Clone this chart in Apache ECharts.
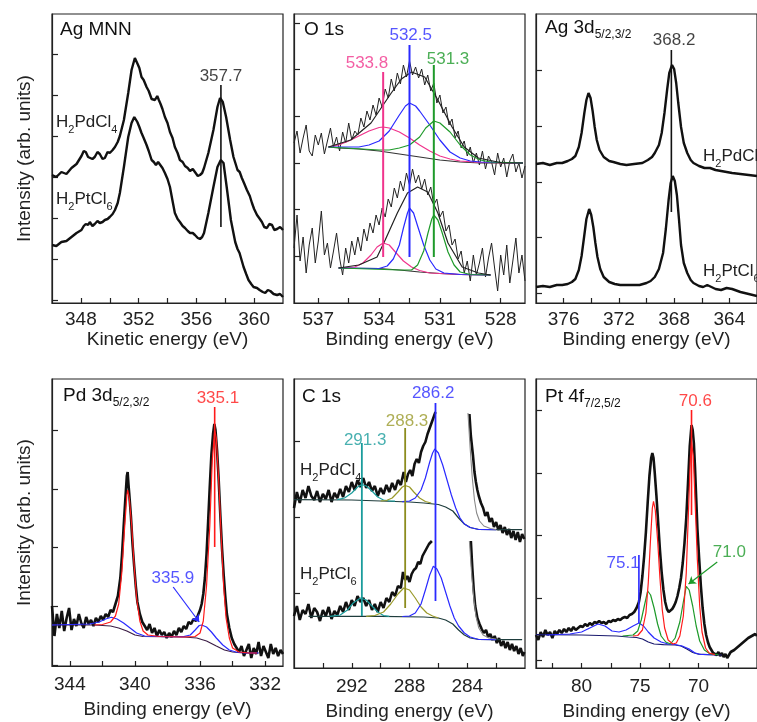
<!DOCTYPE html>
<html>
<head>
<meta charset="utf-8">
<script src="https://cdn.jsdelivr.net/npm/echarts@6/dist/echarts.min.js"></script>
<style>html,body{margin:0;padding:0;background:#fff}#main{width:757px;height:722px}</style>
</head>
<body>
<div id="main"></div>
<script>
var FONT = 'Liberation Sans, Arial, sans-serif';

// ---- Ag MNN (kinetic energy, height above frame bottom) ----
var agMnnPd = [[346.0,128],[346.3,126],[346.65,131],[347.0,129],[347.35,135],[347.7,139],[348.04,147],[348.2,152],[348.34,151],[348.5,146],[348.62,148],[348.8,144],[348.96,146],[349.15,151],[349.31,149],[349.5,144],[349.66,145],[349.85,151],[350.0,150],[350.2,153],[350.36,156],[350.55,161],[350.7,167],[350.98,183],[351.28,210],[351.51,233],[351.74,245],[351.93,239],[352.05,235],[352.2,226],[352.35,223],[352.55,216],[352.7,212],[352.9,204],[353.13,203],[353.29,207],[353.4,203],[353.52,199],[353.65,194],[353.82,186],[354.0,180],[354.17,171],[354.35,165],[354.51,156],[354.7,150],[354.86,143],[355.05,141],[355.21,137],[355.4,135],[355.56,132],[355.75,134],[355.9,131],[356.1,127],[356.25,128],[356.4,130],[356.53,135],[356.83,150],[357.18,173],[357.46,196],[357.64,205],[357.83,201],[358.06,186],[358.34,163],[358.57,146],[358.7,140],[358.85,133],[359.0,131],[359.15,125],[359.3,120],[359.5,113],[359.7,107],[359.85,100],[360.0,94],[360.2,88],[360.35,85],[360.54,81],[360.7,76],[360.89,75],[361.05,79],[361.24,78],[361.4,73],[361.59,74],[361.8,76],[362.0,73]];
var agMnnPt = [[346.0,58],[346.3,57],[346.65,61],[347.0,62],[347.35,66],[347.7,70],[348.04,73],[348.2,77],[348.34,79],[348.5,78],[348.62,81],[348.8,77],[348.96,79],[349.15,82],[349.31,80],[349.5,81],[349.66,83],[349.85,84],[350.0,86],[350.2,89],[350.36,93],[350.55,100],[350.7,110],[350.98,136],[351.28,166],[351.51,180],[351.7,186],[351.91,181],[352.05,176],[352.2,170],[352.35,165],[352.55,158],[352.7,152],[352.9,143],[353.05,141],[353.2,138],[353.35,141],[353.48,140],[353.65,135],[353.82,130],[354.0,124],[354.17,116],[354.35,102],[354.51,90],[354.7,84],[354.86,81],[355.05,77],[355.21,75],[355.4,72],[355.56,70],[355.75,70],[355.9,68],[356.1,65],[356.25,64],[356.4,66],[356.53,70],[356.83,90],[357.18,116],[357.46,136],[357.69,143],[357.88,140],[358.1,116],[358.39,83],[358.69,61],[358.85,54],[358.99,50],[359.15,42],[359.27,36],[359.45,29],[359.61,23],[359.8,19],[359.96,16],[360.2,15],[360.38,13],[360.6,11],[360.77,10],[360.95,13],[361.12,12],[361.35,9],[361.59,8],[361.8,9],[362.0,6]];
var agMnnMarker = [[357.7,76],[357.7,218]];

// ---- O 1s (binding energy grid 538.2 -> 526.8, step 0.15) ----
var o1sStart = 538.2, o1sStep = 0.15;
var o1sPdRaw = [160,172,150,165,178,152,147,168,158,170,149,162,175,156,166,152,171,160,180,163,172,168,185,176,192,183,198,188,205,196,214,205,224,212,230,219,238,226,242,228,236,225,234,218,228,212,220,200,208,190,196,178,184,165,172,155,162,147,156,140,150,138,152,134,147,141,128,150,136,145,126,142,149,131,140,125,137];
var o1sPtRaw = [55,88,42,66,30,58,75,40,62,92,48,60,35,52,70,45,28,55,40,62,48,66,52,74,62,80,70,88,78,95,86,104,96,115,105,122,112,130,118,134,120,128,114,124,108,116,98,104,86,92,72,78,58,64,44,52,30,42,22,48,28,40,55,26,45,60,35,12,48,28,58,20,42,65,30,48,22];
var o1sPdBg = [[536.5,156],[536,155],[535,154],[534,152],[533,149],[532,146],[531,143],[530,141],[529,140],[526.9,140]];
var o1sPdPink = [[536.5,156],[536,158],[535.5,162],[535,167],[534.5,172],[534,175.5],[533.8,176],[533.5,175],[533,171],[532.5,165],[532,158],[531.5,152],[531,147],[530.5,144],[530,142],[529,140.5],[526.9,140]];
var o1sPdBlue = [[536.5,156],[535,156],[534.5,158],[534,162],[533.5,172],[533,188],[532.7,197],[532.5,200],[532.2,197],[532,192],[531.5,178],[531,163],[530.5,151],[530,145],[529.5,142],[529,141],[526.9,140]];
var o1sPdGreen = [[536.5,156],[534,153],[533.5,153],[533,155],[532.5,158],[532,166],[531.7,175],[531.3,182],[531,180],[530.5,171],[530,158],[529.5,148],[529,143],[528.5,141],[526.9,140]];
var o1sPdEnv = [[536.5,156],[535.4,163],[534.4,180],[533.4,210],[532.9,224],[532.4,231],[531.75,226],[531.1,203],[530.4,176],[529.8,156],[529.1,145],[527.9,140],[526.9,140]];
var o1sPtBg = [[536,35],[534,34.5],[533,33],[532,31],[531,29.5],[530,28.5],[528.5,28]];
var o1sPtPink = [[536,35],[535.2,36],[534.8,40],[534.4,48],[534.1,56],[533.8,60],[533.5,58],[533.2,51],[532.8,42],[532.4,36],[532,32.5],[531.5,30],[530,28.5],[528.5,28]];
var o1sPtBlue = [[536,35],[534,34.5],[533.6,37],[533.3,44],[533,58],[532.8,75],[532.6,90],[532.5,95],[532.3,90],[532.1,77],[531.8,58],[531.5,43],[531.2,34],[530.8,30],[530,28.5],[528.5,28]];
var o1sPtGreen = [[536,35],[533,33],[532.4,33],[532.1,38],[531.8,52],[531.6,69],[531.4,84],[531.3,88],[531.1,83],[530.9,71],[530.6,51],[530.3,38],[530,31],[529.5,28.5],[528.5,28]];
var o1sPtEnv = [[536,35],[535,38],[534.1,46],[533.7,63],[533.1,90],[532.6,110],[532.1,116],[531.6,111],[531.1,90],[530.6,60],[529.9,36],[529.1,30],[528.5,28]];
var o1sMarkers = [
  [[533.8,46],[533.8,231]],
  [[532.5,46],[532.5,258]],
  [[531.3,46],[531.3,238]]
];

// ---- Ag 3d ----
var ag3dPd = [[378,139],[377.5,140],[377,138],[376.5,140],[376.1,140],[375.7,142],[375.4,144],[375.15,147],[374.9,156],[374.7,170],[374.5,190],[374.35,203],[374.2,210],[374.05,205],[373.9,192],[373.75,176],[373.6,163],[373.4,153],[373.1,146],[372.7,142],[372.4,141],[371.9,139],[371.45,138],[370.9,139],[370.3,140],[369.9,143],[369.6,146],[369.4,150],[369.1,158],[368.9,170],[368.7,190],[368.5,214],[368.35,230],[368.15,238],[368.0,234],[367.85,220],[367.7,200],[367.5,176],[367.3,160],[367.05,150],[366.8,143],[366.6,140],[366.2,137],[365.8,135],[365.4,135],[365.0,133],[364.6,132],[364.2,131],[363.8,130],[363.2,129],[362.6,128],[362,127]];
var ag3dPt = [[378,16],[377.5,17],[377,16],[376.5,18],[376.1,18],[375.7,19],[375.4,21],[375.15,24],[374.9,33],[374.7,47],[374.5,68],[374.35,84],[374.15,94],[374.0,88],[373.85,76],[373.7,60],[373.55,46],[373.35,34],[373.1,26],[372.7,21],[372.3,19],[371.9,18],[371.2,18],[370.5,18],[370,20],[369.7,22],[369.4,26],[369.1,34],[368.8,50],[368.6,74],[368.4,103],[368.25,120],[368.1,127],[367.95,122],[367.8,108],[367.65,84],[367.5,58],[367.3,40],[367.05,30],[366.8,23],[366.6,20],[366.2,17],[365.9,16],[365.6,18],[365.3,16],[365.0,14],[364.6,13],[364.2,15],[363.8,14],[363.2,11],[362.6,9],[362,7]];
var ag3dMarker = [[368.2,91],[368.2,253]];

// ---- Pd 3d ----
var pdData = [[345.1,60],[344.95,30],[344.8,52],[344.65,38],[344.5,55],[344.35,35],[344.2,48],[344.05,58],[343.9,36],[343.75,47],[343.6,40],[343.45,52],[343.3,43],[343.15,38],[343.0,49],[342.85,42],[342.7,46],[342.55,40],[342.4,48],[342.25,44],[342.1,50],[341.95,46],[341.8,52],[341.65,49],[341.5,56],[341.35,54],[341.2,62],[341.05,70],[340.9,88],[340.8,110],[340.7,138],[340.6,165],[340.5,190],[340.45,194],[340.4,182],[340.35,172],[340.25,150],[340.15,122],[340.05,100],[339.95,80],[339.85,64],[339.7,52],[339.55,44],[339.4,40],[339.25,36],[339.1,42],[338.95,33],[338.8,38],[338.65,30],[338.5,36],[338.35,31],[338.2,34],[338.05,28],[337.9,33],[337.75,29],[337.6,35],[337.45,31],[337.3,38],[337.15,34],[337.0,40],[336.85,37],[336.7,44],[336.55,42],[336.4,47],[336.25,45],[336.1,52],[336.0,56],[335.9,62],[335.8,72],[335.7,88],[335.6,112],[335.5,145],[335.4,180],[335.3,212],[335.2,232],[335.12,242],[335.05,236],[334.95,215],[334.85,185],[334.75,150],[334.65,118],[334.55,92],[334.45,70],[334.35,52],[334.2,38],[334.05,28],[333.9,22],[333.75,18],[333.6,14],[333.45,20],[333.3,10],[333.15,16],[333.0,22],[332.85,8],[332.7,18],[332.55,12],[332.4,24],[332.25,10],[332.1,20],[331.95,14],[331.8,8],[331.65,22],[331.5,12],[331.35,18],[331.2,10],[331.05,16],[330.9,12]];
var pdRed = [[342.5,41],[342,41.5],[341.5,44],[341.2,50],[341,62],[340.8,95],[340.65,135],[340.5,170],[340.45,176],[340.35,168],[340.2,140],[340.05,100],[339.9,68],[339.7,45],[339.5,35],[339.2,31],[338.5,29.5],[337,29],[336.3,29.5],[336,33],[335.8,45],[335.6,80],[335.4,140],[335.25,205],[335.1,236],[335.0,228],[334.85,185],[334.7,130],[334.55,80],[334.4,48],[334.2,28],[334,18],[333.6,14],[333,13],[332.5,13]];
var pdBg = [[345.1,41],[342.5,41],[341.5,40],[341,38],[340.5,35],[340,31],[339.5,29.5],[337,29],[336.2,28],[335.6,25],[335,20],[334.5,16],[334,14],[333.5,13.3],[333,13],[332.4,13]];
var pdBlue = [[345.1,41],[342.8,42],[342.2,44],[341.8,47],[341.45,48.7],[341.1,47],[340.7,43],[340.3,38],[339.9,33],[339.4,30],[338,29.3],[337,29.3],[336.6,31],[336.3,36],[336.05,40.5],[335.9,41],[335.6,39],[335.3,34],[335,28],[334.6,21],[334.2,16],[333.8,14],[333.2,13],[332.4,13]];
var pdMarker = [[335.1,119],[335.1,259]];
var pdArrow = [[337.65,79],[336.05,44]];

// ---- C 1s ----
var c1sPdA = [[296.0,160],[295.8,176],[295.6,165],[295.4,178],[295.2,170],[295.0,182],[294.8,172],[294.6,168],[294.4,177],[294.2,166],[294.0,174],[293.8,169],[293.6,178],[293.4,166],[293.2,175],[293.0,170],[292.8,179],[292.6,171],[292.4,182],[292.2,176],[292.0,186],[291.8,178],[291.6,188],[291.4,181],[291.2,190],[291.0,180],[290.8,186],[290.6,177],[290.4,182],[290.2,172],[290.0,180],[289.8,174],[289.6,183],[289.4,176],[289.2,185],[289.0,178],[288.8,188],[288.6,183],[288.4,196],[288.25,186],[288.1,194],[287.95,198],[287.8,192],[287.65,204],[287.5,209],[287.35,205],[287.2,216],[287.05,222],[286.9,226],[286.75,234],[286.6,240],[286.45,246],[286.3,252],[286.2,256]];
var c1sPdB = [[283.85,254],[283.75,232],[283.6,212],[283.5,196],[283.4,186],[283.3,178],[283.2,172],[283.05,165],[282.9,160],[282.75,152],[282.6,156],[282.45,146],[282.3,150],[282.15,141],[282.0,146],[281.85,138],[281.7,143],[281.55,135],[281.4,141],[281.25,133],[281.1,139],[280.95,130],[280.8,137],[280.65,128],[280.5,136],[280.35,126],[280.2,134],[280.05,129]];
var c1sPtA = [[296.0,52],[295.8,62],[295.6,48],[295.4,58],[295.2,54],[295.0,64],[294.8,50],[294.6,60],[294.4,56],[294.2,47],[294.0,58],[293.8,52],[293.6,61],[293.4,49],[293.2,57],[293.0,53],[292.8,62],[292.6,56],[292.4,66],[292.2,58],[292.0,68],[291.8,62],[291.6,72],[291.4,66],[291.2,70],[291.0,62],[290.8,68],[290.6,58],[290.4,64],[290.2,56],[290.0,66],[289.8,60],[289.6,70],[289.4,66],[289.2,76],[289.0,72],[288.8,82],[288.6,80],[288.45,96],[288.3,88],[288.15,92],[288.0,86],[287.85,94],[287.7,98],[287.55,100],[287.4,106],[287.25,104],[287.1,112],[286.95,116],[286.8,120],[286.65,124],[286.45,127]];
var c1sPtB = [[283.75,127],[283.65,100],[283.55,78],[283.45,62],[283.3,50],[283.15,44],[283.0,39],[282.85,35],[282.7,38],[282.55,31],[282.4,34],[282.25,28],[282.1,32],[281.95,25],[281.8,30],[281.65,22],[281.5,27],[281.35,20],[281.2,26],[281.05,18],[280.9,24],[280.75,17],[280.6,22],[280.45,14],[280.3,20],[280.15,12],[280.05,16]];
var c1sPdBg = [[296,168.3],[292,168],[290,167],[288,166],[287,165],[286,163.5],[285.5,161],[285,157],[284.6,150],[284.2,144],[283.8,140.5],[283.2,138.5],[282,138.3],[280.2,138.3]];
var c1sPdTeal = [[293,168.3],[292.5,170],[292,175],[291.6,181],[291.3,183.5],[291,182],[290.6,177],[290.2,171],[289.8,168],[289.4,167],[289,166.8]];
var c1sPdOlive = [[290,167],[289.6,167.5],[289.2,170],[288.8,176],[288.5,181],[288.3,182.5],[288.0,181],[287.7,176],[287.3,170],[286.9,166.5],[286.5,165]];
var c1sPdBlue = [[288.5,166.3],[288,167],[287.6,170],[287.2,178],[286.9,190],[286.6,206],[286.4,215],[286.25,219],[286.0,215],[285.7,203],[285.4,188],[285.1,173],[284.8,160],[284.5,150],[284.2,144],[283.8,140.5],[283.2,138.5],[282,138.3]];
var c1sPdGray = [[283.95,255],[283.8,220],[283.65,190],[283.5,168],[283.35,155],[283.15,147],[282.85,142],[282.4,139.5],[282,138.5]];
var c1sPtBg = [[295,51.7],[290,51.7],[287,51],[286,50],[285.5,48],[285,44],[284.6,38],[284.2,33],[283.8,30],[283.2,28.5],[282,28.3],[280.2,28.3]];
var c1sPtTeal = [[293.5,51.7],[292.8,53],[292.3,58],[291.9,65],[291.4,70],[291.0,68],[290.6,62],[290.2,56],[289.8,52.5],[289.4,51.7]];
var c1sPtOlive = [[291,51.7],[290.4,52.5],[289.8,56],[289.3,64],[288.8,74],[288.4,80],[288.0,78],[287.6,70],[287.2,61],[286.8,55],[286.4,52],[286,50]];
var c1sPtBlue = [[288.5,51.5],[288,52],[287.6,55],[287.2,64],[286.9,78],[286.6,93],[286.35,101.7],[286.1,99],[285.8,90],[285.5,76],[285.2,62],[284.9,50],[284.6,42],[284.2,35],[283.8,31],[283.2,28.5],[282,28.3]];
var c1sPtGray = [[283.85,127],[283.7,95],[283.55,70],[283.4,52],[283.2,40],[282.9,33],[282.5,30],[282,29]];
var c1sMarkers = [
  [[291.3,52],[291.3,225]],
  [[288.3,60],[288.3,240]],
  [[286.2,67],[286.2,265]]
];

// ---- Pt 4f ----
var ptData = [[83.9,33],[83.7,28],[83.5,36],[83.3,31],[83.1,38],[82.9,33],[82.7,36],[82.5,30],[82.3,37],[82.1,34],[81.9,38],[81.7,35],[81.5,39],[81.3,36],[81.1,40],[80.9,37],[80.7,41],[80.5,38],[80.3,40],[80.1,42],[79.9,41],[79.7,44],[79.5,42],[79.3,45],[79.1,43],[78.9,46],[78.7,45],[78.5,47],[78.3,45],[78.1,46],[77.9,44],[77.7,47],[77.5,46],[77.3,48],[77.1,47],[76.9,49],[76.7,48],[76.5,50],[76.3,51],[76.1,50],[75.9,53],[75.7,54],[75.5,56],[75.3,60],[75.1,66],[74.95,76],[74.8,92],[74.65,112],[74.5,136],[74.35,165],[74.2,192],[74.05,210],[73.95,215],[73.85,210],[73.75,196],[73.6,172],[73.45,145],[73.3,118],[73.15,95],[73.0,78],[72.85,66],[72.7,59],[72.55,56],[72.4,57],[72.25,59],[72.1,62],[71.95,66],[71.8,72],[71.65,80],[71.5,90],[71.35,105],[71.2,125],[71.05,150],[70.9,185],[70.75,222],[70.6,243],[70.5,238],[70.4,225],[70.3,200],[70.2,170],[70.1,140],[69.95,110],[69.8,82],[69.65,60],[69.5,44],[69.35,33],[69.2,26],[69.05,21],[68.9,18],[68.75,15],[68.6,17],[68.45,13],[68.3,16],[68.15,12],[68.0,15],[67.85,11],[67.7,14],[67.55,10],[67.4,13],[67.25,16],[67.1,14],[66.95,18],[66.8,16],[66.65,21],[66.5,19],[66.35,24],[66.2,22],[66.05,27],[65.9,25],[65.75,30],[65.6,28],[65.45,32],[65.3,30],[65.15,34],[65.0,32]];
var ptRed = [[75.6,32],[75.2,32.5],[74.8,38],[74.5,55],[74.3,85],[74.1,130],[73.95,160],[73.85,166.7],[73.7,158],[73.5,128],[73.3,90],[73.1,58],[72.9,40],[72.6,28],[72.2,24],[71.9,25],[71.6,32],[71.3,52],[71.05,95],[70.85,160],[70.7,210],[70.6,226],[70.45,212],[70.3,168],[70.1,108],[69.9,62],[69.7,36],[69.4,20],[69.1,15],[68.6,13.3]];
var ptGreen = [[76.5,32],[75.6,33],[75.2,37],[74.9,48],[74.6,64],[74.35,77],[74.1,73],[73.8,60],[73.5,44],[73.2,32],[72.8,26],[72.4,24],[72.0,30],[71.6,46],[71.3,66],[71.05,81.7],[70.8,78],[70.5,62],[70.2,42],[69.9,27],[69.5,18],[69,14],[68.3,13.3]];
var ptBlue = [[83,33],[81,34],[80,36],[79.3,40],[78.6,44],[78,42],[77.4,37],[76.8,36],[76.2,38],[75.6,42],[75.1,45],[74.7,42],[74.3,36],[73.8,30],[73.2,26],[72.6,24],[72,23.5],[71.4,22],[70.8,19],[70.3,15],[69.8,13.5],[68.5,13.3]];
var ptBg = [[83.9,33.3],[80,33],[77,32],[76,31],[75.3,30.5],[74.8,29],[74.3,26],[73.8,24],[73,23.3],[72,23],[71.5,22],[71,19],[70.5,15.5],[70,13.8],[69.2,13.3],[68,13]];
var ptMarkers = [
  [[70.6,153],[70.6,258]],
  [[75.1,45],[75.1,113]]
];
var ptArrow = [[68.4,106],[70.85,84]];

// ---- axis ticks / labels per panel ----
var xTicks = [
  [348,350,352,354,356,358,360],
  [528,529.5,531,532.5,534,535.5,537],
  [364,366,368,370,372,374,376],
  [332,334,336,338,340,342,344],
  [282,284,286,288,290,292,294],
  [67.5,70,72.5,75,77.5,80,82.5]
];
var xLabels = [
  [348,352,356,360],
  [528,531,534,537],
  [364,368,372,376],
  [332,336,340,344],
  [284,288,292],
  [70,75,80]
];
var yTicks = [
  [3,44,85,126,167,208,249],
  [46.7,93.4,140,186.7,233.4,280],
  [9.7,65.4,121.1,176.8,232.5],
  [1,60,118.5,177,236],
  [75,151,227],
  [7.6,70,132.3,195,257.6]
];
var panelTitles = ['{m|Ag MNN}', '{m|O 1s}', '{m|Ag 3d}{s|5/2,3/2}', '{m|Pd 3d}{s|5/2,3/2}', '{m|C 1s}', '{m|Pt 4f}{s|7/2,5/2}'];
// [panel, energy, height, text, colour]
var peakLabels = [
  [0, 357.7, 227, '357.7', '#111'],
  [1, 534.6, 240, '533.8', '#f0348c'],
  [1, 532.44, 268, '532.5', '#2a2aff'],
  [1, 530.6, 244, '531.3', '#1e9a2a'],
  [2, 368.0, 263, '368.2', '#111'],
  [3, 334.9, 268, '335.1', '#ff1a1a'],
  [3, 337.67, 88, '335.9', '#2a2aff'],
  [4, 291.07, 228, '291.3', '#1a9c9c'],
  [4, 288.17, 247, '288.3', '#9a9a2a'],
  [4, 286.36, 275, '286.2', '#2a2aff'],
  [5, 70.27, 267, '70.6', '#ff1a1a'],
  [5, 76.45, 105, '75.1', '#2a2aff'],
  [5, 67.37, 116, '71.0', '#1e9a2a']
];

var grids = [
  {left: 52, top: 14, width: 231, height: 289},
  {left: 294, top: 14, width: 231, height: 289},
  {left: 536, top: 14, width: 232, height: 289},
  {left: 52, top: 379, width: 231, height: 287},
  {left: 294, top: 379, width: 231, height: 289},
  {left: 536, top: 379, width: 232, height: 289}
];
var xRange = [[346,362],[526.8,538.2],[362,378],[330.9,345.1],[280,296],[65,83.9]];
var xNames = ['Kinetic energy (eV)','Binding energy (eV)','Binding energy (eV)','Binding energy (eV)','Binding energy (eV)','Binding energy (eV)'];

function toPairs(start, step, vals) {
  var out = [];
  for (var i = 0; i < vals.length; i++) out.push([+(start - i * step).toFixed(2), vals[i]]);
  return out;
}

function ln(i, data, color, w, z) {
  return {
    type: 'line', xAxisIndex: i, yAxisIndex: i, data: data,
    showSymbol: false, symbol: 'none', silent: true, z: z || 2,
    lineStyle: {color: color, width: w}
  };
}

var series = [];
// Ag MNN
series.push(ln(0, agMnnPd, '#111', 2.4, 3), ln(0, agMnnPt, '#111', 2.4, 3), ln(0, agMnnMarker, '#111', 1.6, 4));
// O 1s
series.push(
  ln(1, toPairs(o1sStart, o1sStep, o1sPdRaw), '#222', 1, 2),
  ln(1, toPairs(o1sStart, o1sStep, o1sPtRaw), '#222', 1, 2),
  ln(1, o1sPdBg, '#333', 1.1, 3), ln(1, o1sPdPink, '#f0348c', 1.2, 3), ln(1, o1sPdBlue, '#2a2aff', 1.2, 3),
  ln(1, o1sPdGreen, '#1e9a2a', 1.2, 3), ln(1, o1sPdEnv, '#222', 1.2, 3),
  ln(1, o1sPtBg, '#333', 1.1, 3), ln(1, o1sPtPink, '#f0348c', 1.2, 3), ln(1, o1sPtBlue, '#2a2aff', 1.2, 3),
  ln(1, o1sPtGreen, '#1e9a2a', 1.2, 3), ln(1, o1sPtEnv, '#222', 1.2, 3),
  ln(1, o1sMarkers[0], '#f0348c', 2, 4), ln(1, o1sMarkers[1], '#2a2aff', 2, 4), ln(1, o1sMarkers[2], '#1e9a2a', 2, 4)
);
// Ag 3d
series.push(ln(2, ag3dPd, '#111', 2.4, 3), ln(2, ag3dPt, '#111', 2.4, 3), ln(2, ag3dMarker, '#111', 1.6, 4));
// Pd 3d
series.push(
  ln(3, pdData, '#111', 2.6, 2), ln(3, pdBg, '#3c1e46', 1.2, 3), ln(3, pdBlue, '#2a2aff', 1.2, 3),
  ln(3, pdRed, '#ff1a1a', 1.2, 3), ln(3, pdMarker, '#ff1a1a', 1.6, 4)
);
series.push({
  type: 'lines', coordinateSystem: 'cartesian2d', xAxisIndex: 3, yAxisIndex: 3, silent: true, z: 5,
  symbol: ['none', 'arrow'], symbolSize: 7,
  lineStyle: {color: '#2a2aff', width: 1.2, opacity: 1},
  data: [{coords: pdArrow}]
});
// C 1s
series.push(
  ln(4, c1sPdA, '#111', 2.6, 2), ln(4, c1sPdB, '#111', 2.6, 2),
  ln(4, c1sPtA, '#111', 2.6, 2), ln(4, c1sPtB, '#111', 2.6, 2),
  ln(4, c1sPdBg, '#1e3c3c', 1.2, 3), ln(4, c1sPdTeal, '#1a9c9c', 1.2, 3), ln(4, c1sPdOlive, '#9a9a2a', 1.2, 3),
  ln(4, c1sPdBlue, '#2a2aff', 1.2, 3), ln(4, c1sPdGray, '#888', 1.1, 3),
  ln(4, c1sPtBg, '#1e3c3c', 1.2, 3), ln(4, c1sPtTeal, '#1a9c9c', 1.2, 3), ln(4, c1sPtOlive, '#9a9a2a', 1.2, 3),
  ln(4, c1sPtBlue, '#2a2aff', 1.2, 3), ln(4, c1sPtGray, '#888', 1.1, 3),
  ln(4, c1sMarkers[0], '#1a9c9c', 1.8, 4), ln(4, c1sMarkers[1], '#8c8c1e', 1.8, 4), ln(4, c1sMarkers[2], '#2a2aff', 1.8, 4)
);
// Pt 4f
series.push(
  ln(5, ptData, '#111', 2.6, 2), ln(5, ptBg, '#1a1a6e', 1.2, 3), ln(5, ptBlue, '#2a2aff', 1.2, 3),
  ln(5, ptGreen, '#1e9a2a', 1.2, 3), ln(5, ptRed, '#ff1a1a', 1.2, 3),
  ln(5, ptMarkers[0], '#ff1a1a', 1.6, 4), ln(5, ptMarkers[1], '#2a2aff', 1.6, 4)
);
series.push({
  type: 'lines', coordinateSystem: 'cartesian2d', xAxisIndex: 5, yAxisIndex: 5, silent: true, z: 5,
  symbol: ['none', 'arrow'], symbolSize: 7,
  lineStyle: {color: '#1e9a2a', width: 1.2, opacity: 1},
  data: [{coords: ptArrow}]
});
// peak value labels
peakLabels.forEach(function (p) {
  series.push({
    type: 'scatter', xAxisIndex: p[0], yAxisIndex: p[0], silent: true, z: 6,
    symbolSize: 0, itemStyle: {color: 'transparent'},
    data: [[p[1], p[2]]],
    label: {show: true, position: 'inside', formatter: p[3], color: p[4], fontSize: 17, fontFamily: FONT}
  });
});

var xAxis = [], yAxis = [];
for (var i = 0; i < 6; i++) {
  var bottomRow = i >= 3;
  xAxis.push({
    type: 'value', gridIndex: i, min: xRange[i][0], max: xRange[i][1], inverse: i !== 0,
    axisLine: {show: true, onZero: false, lineStyle: {color: '#222', width: 1.2}},
    axisTick: {show: true, inside: true, length: 5, customValues: xTicks[i], lineStyle: {color: '#222', width: 1.2}},
    axisLabel: {show: true, customValues: xLabels[i], margin: bottomRow ? 9 : 7, fontSize: 19, color: '#222', fontFamily: FONT},
    splitLine: {show: false},
    name: xNames[i], nameLocation: 'middle', nameGap: bottomRow ? 34 : 22,
    nameTextStyle: {fontSize: 19, color: '#222', fontFamily: FONT}
  });
  yAxis.push({
    type: 'value', gridIndex: i, min: 0, max: grids[i].height,
    axisLine: {show: true, lineStyle: {color: '#222', width: 1.2}},
    axisTick: {show: true, inside: true, length: 6, customValues: yTicks[i], lineStyle: {color: '#222', width: 1.2}},
    axisLabel: {show: false},
    splitLine: {show: false},
    name: (i === 0 || i === 3) ? 'Intensity (arb. units)' : '',
    nameLocation: 'middle', nameGap: 18,
    nameTextStyle: {fontSize: 19, color: '#222', fontFamily: FONT}
  });
}

var titleRich = {
  m: {fontSize: 19, fontFamily: FONT, fill: '#111', verticalAlign: 'top'},
  s: {fontSize: 12, fontFamily: FONT, fill: '#111', verticalAlign: 'top', padding: [11, 0, 0, 0]}
};
var sampleRich = {
  m: {fontSize: 17, fontFamily: FONT, fill: '#222', verticalAlign: 'top'},
  s: {fontSize: 11, fontFamily: FONT, fill: '#222', verticalAlign: 'top', padding: [10, 0, 0, 0]}
};
var titlePos = [[60, 20], [304, 20], [545, 18], [63, 386], [302, 387], [545, 387]];
var samplePos = [
  ['{m|H}{s|2}{m|PdCl}{s|4}', 56, 114], ['{m|H}{s|2}{m|PtCl}{s|6}', 56, 191],
  ['{m|H}{s|2}{m|PdCl}{s|4}', 703, 148], ['{m|H}{s|2}{m|PtCl}{s|6}', 703, 263],
  ['{m|H}{s|2}{m|PdCl}{s|4}', 300, 462], ['{m|H}{s|2}{m|PtCl}{s|6}', 300, 566]
];
var graphic = [];
panelTitles.forEach(function (t, k) {
  graphic.push({type: 'text', x: titlePos[k][0], y: titlePos[k][1], z: 10, style: {text: t, rich: titleRich}});
});
samplePos.forEach(function (s) {
  graphic.push({type: 'text', x: s[1], y: s[2], z: 10, style: {text: s[0], rich: sampleRich}});
});

var chart = echarts.init(document.getElementById('main'));
chart.setOption({
  animation: false,
  backgroundColor: '#fff',
  grid: grids.map(function (g) {
    return {left: g.left, top: g.top, width: g.width, height: g.height, show: true, borderColor: '#222', borderWidth: 1.2, containLabel: false};
  }),
  xAxis: xAxis,
  yAxis: yAxis,
  series: series,
  graphic: graphic
});
</script>
</body>
</html>
